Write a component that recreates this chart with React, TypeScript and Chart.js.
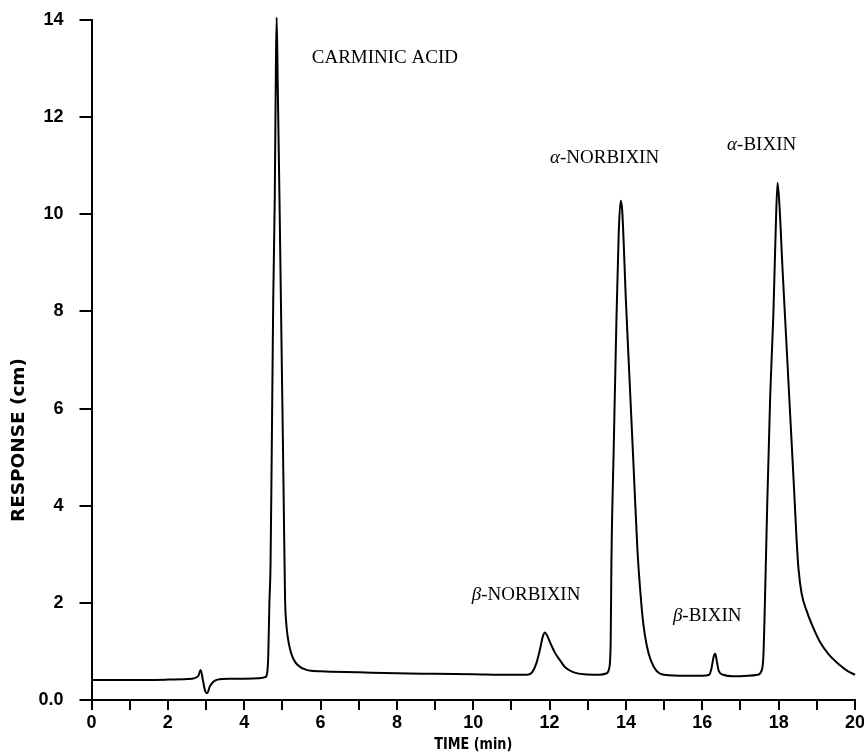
import React, { useEffect, useRef } from "react";
import { Chart, registerables } from "chart.js";

Chart.register(...registerables);

// Retention time (min)
const timeMin: number[] = [
  0, 1, 2, 2.5, 2.7, 2.8, 2.86, 2.92, 2.98, 3.03, 3.1, 3.2, 3.3, 3.6, 4.0, 4.4,
  4.55, 4.6, 4.63, 4.66, 4.69, 4.72, 4.76, 4.8, 4.83, 4.85, 4.88, 4.93, 4.98,
  5.03, 5.07, 5.1, 5.14, 5.2, 5.28, 5.4, 5.63, 6.0, 7.0, 8.0, 9.0, 10.0, 11.0, 11.4,
  11.55, 11.65, 11.75, 11.82, 11.88, 11.95, 12.05, 12.15, 12.27, 12.4, 12.6, 12.9, 13.3,
  13.5, 13.56, 13.6, 13.62, 13.68, 13.75, 13.81, 13.86, 13.9, 14.0, 14.1, 14.2, 14.3,
  14.38, 14.45, 14.55, 14.65, 14.8, 15.0, 15.6, 16.0, 16.18, 16.24, 16.3, 16.34, 16.38,
  16.43, 16.55, 16.8, 17.2, 17.45, 17.55, 17.6, 17.64, 17.7, 17.78, 17.86, 17.92, 17.97,
  18.02, 18.1, 18.2, 18.3, 18.4, 18.47, 18.52, 18.6, 18.75, 18.9, 19.08, 19.3, 19.6,
  19.8, 20.0,
];

// Detector response (cm)
const responseCm: number[] = [
  0.41, 0.41, 0.42, 0.43, 0.45, 0.5, 0.62, 0.4, 0.18, 0.14, 0.28, 0.38, 0.42, 0.44, 0.44, 0.45,
  0.47, 0.55, 0.9, 2.0, 2.8, 5.0, 8.2, 10.3, 13.0, 14.05, 12.6, 10.0, 7.2,
  4.4, 2.1, 1.6, 1.3, 1.05, 0.86, 0.72, 0.62, 0.59, 0.57, 0.55, 0.54, 0.53, 0.52, 0.52,
  0.58, 0.75, 1.05, 1.3, 1.39, 1.3, 1.12, 0.96, 0.82, 0.68, 0.58, 0.53, 0.52,
  0.55, 0.65, 1.2, 2.9, 5.2, 7.8, 9.6, 10.28, 10.1, 8.2, 6.5, 4.8, 3.1,
  2.2, 1.6, 1.1, 0.82, 0.6, 0.52, 0.5, 0.5, 0.52, 0.65, 0.9, 0.95, 0.8,
  0.6, 0.52, 0.49, 0.5, 0.52, 0.6, 0.9, 2.0, 4.0, 6.3, 7.9, 9.6, 10.65,
  10.2, 8.9, 7.4, 5.9, 4.4, 3.3, 2.7, 2.2, 1.8, 1.5, 1.2, 0.95, 0.72,
  0.6, 0.52,
];

// Peak labels: greek prefix, text, anchor (time, response) of text baseline-left
const peakGreek: string[] = ["", "α", "α", "β", "β"];
const peakText: string[] = ["CARMINIC ACID", "-NORBIXIN", "-BIXIN", "-NORBIXIN", "-BIXIN"];
const peakLabelTime: number[] = [5.77, 12.01, 16.65, 9.96, 15.23];
const peakLabelResp: number[] = [13.11, 11.06, 11.32, 2.06, 1.63];

const xTitle = "TIME (min)";
const yTitle = "RESPONSE (cm)";

const labelsPlugin = {
  id: "peakLabels",
  afterDraw(chart: any) {
    const { ctx, scales } = chart;
    const xs = scales.x;
    const ys = scales.y;
    ctx.save();
    ctx.fillStyle = "#000";
    ctx.textBaseline = "alphabetic";
    ctx.textAlign = "left";
    for (let i = 0; i < peakText.length; i++) {
      let px = xs.getPixelForValue(peakLabelTime[i]);
      const py = ys.getPixelForValue(peakLabelResp[i]);
      if (peakGreek[i]) {
        ctx.font = 'italic 19px "Liberation Serif"';
        ctx.fillText(peakGreek[i], px, py);
        px += ctx.measureText(peakGreek[i]).width;
      }
      ctx.font = '19px "Liberation Serif"';
      ctx.fillText(peakText[i], px, py);
    }

    // axis titles, fitted to width
    const drawFitted = (text: string, cx: number, cy: number, font: string, w: number, rot: number) => {
      ctx.save();
      ctx.translate(cx, cy);
      ctx.rotate(rot);
      ctx.font = font;
      const mw = ctx.measureText(text).width;
      ctx.scale(w / mw, 1);
      ctx.textAlign = "center";
      ctx.textBaseline = "middle";
      ctx.fillText(text, 0, 0);
      ctx.restore();
    };
    const ca = chart.chartArea;
    drawFitted(xTitle, (ca.left + ca.right) / 2, ca.bottom + 45, 'bold 16px "DejaVu Sans"', 78, 0);
    drawFitted(yTitle, 20, ca.bottom - 260, 'bold 17px "DejaVu Sans"', 164, -Math.PI / 2);
    ctx.restore();
  },
};

export default function App() {
  const ref = useRef<HTMLCanvasElement | null>(null);

  useEffect(() => {
    if (!ref.current) return;
    const data = timeMin.map((t, i) => ({ x: t, y: responseCm[i] }));
    const tickFont = { family: '"Liberation Sans", Arial, sans-serif', size: 18, weight: "bold" as const };
    const chart = new Chart(ref.current, {
      type: "line",
      data: {
        datasets: [
          {
            data,
            borderColor: "#000",
            borderWidth: 2,
            pointRadius: 0,
            fill: false,
            cubicInterpolationMode: "monotone",
            clip: false as any,
          },
        ],
      },
      options: {
        animation: false,
        responsive: false,
        maintainAspectRatio: false,
        layout: { padding: { left: 0, right: 9, top: 20, bottom: 0 } },
        plugins: {
          legend: { display: false },
          tooltip: { enabled: false },
          title: { display: false },
        },
        scales: {
          x: {
            type: "linear",
            min: 0,
            max: 20,
            afterFit: (s: any) => {
              s.height = 54;
              s.paddingLeft = 0;
              s.paddingRight = 0;
            },
            border: { display: true, color: "#000", width: 2 },
            grid: { drawOnChartArea: false, drawTicks: true, tickLength: 10, color: "#000", lineWidth: 2 },
            ticks: {
              stepSize: 1,
              autoSkip: false,
              maxRotation: 0,
              padding: 2,
              color: "#000",
              font: tickFont,
              callback: (v: any) => (Number(v) % 2 === 0 ? String(v) : ""),
            },
          },
          y: {
            type: "linear",
            min: 0,
            max: 14,
            afterFit: (s: any) => {
              s.width = 91.5;
              s.paddingTop = 0;
              s.paddingBottom = 0;
            },
            border: { display: true, color: "#000", width: 2 },
            grid: { drawOnChartArea: false, drawTicks: true, tickLength: 12, color: "#000", lineWidth: 2 },
            ticks: {
              stepSize: 2,
              padding: 16,
              color: "#000",
              font: tickFont,
              callback: (v: any) => (Number(v) === 0 ? "0.0" : String(v)),
            },
          },
        },
      },
      plugins: [labelsPlugin],
    });
    return () => chart.destroy();
  }, []);

  return (
    <div style={{ position: "absolute", left: 0, top: 0, width: 864, height: 754, background: "#fff" }}>
      <canvas ref={ref} width={864} height={754} style={{ display: "block" }} />
    </div>
  );
}
